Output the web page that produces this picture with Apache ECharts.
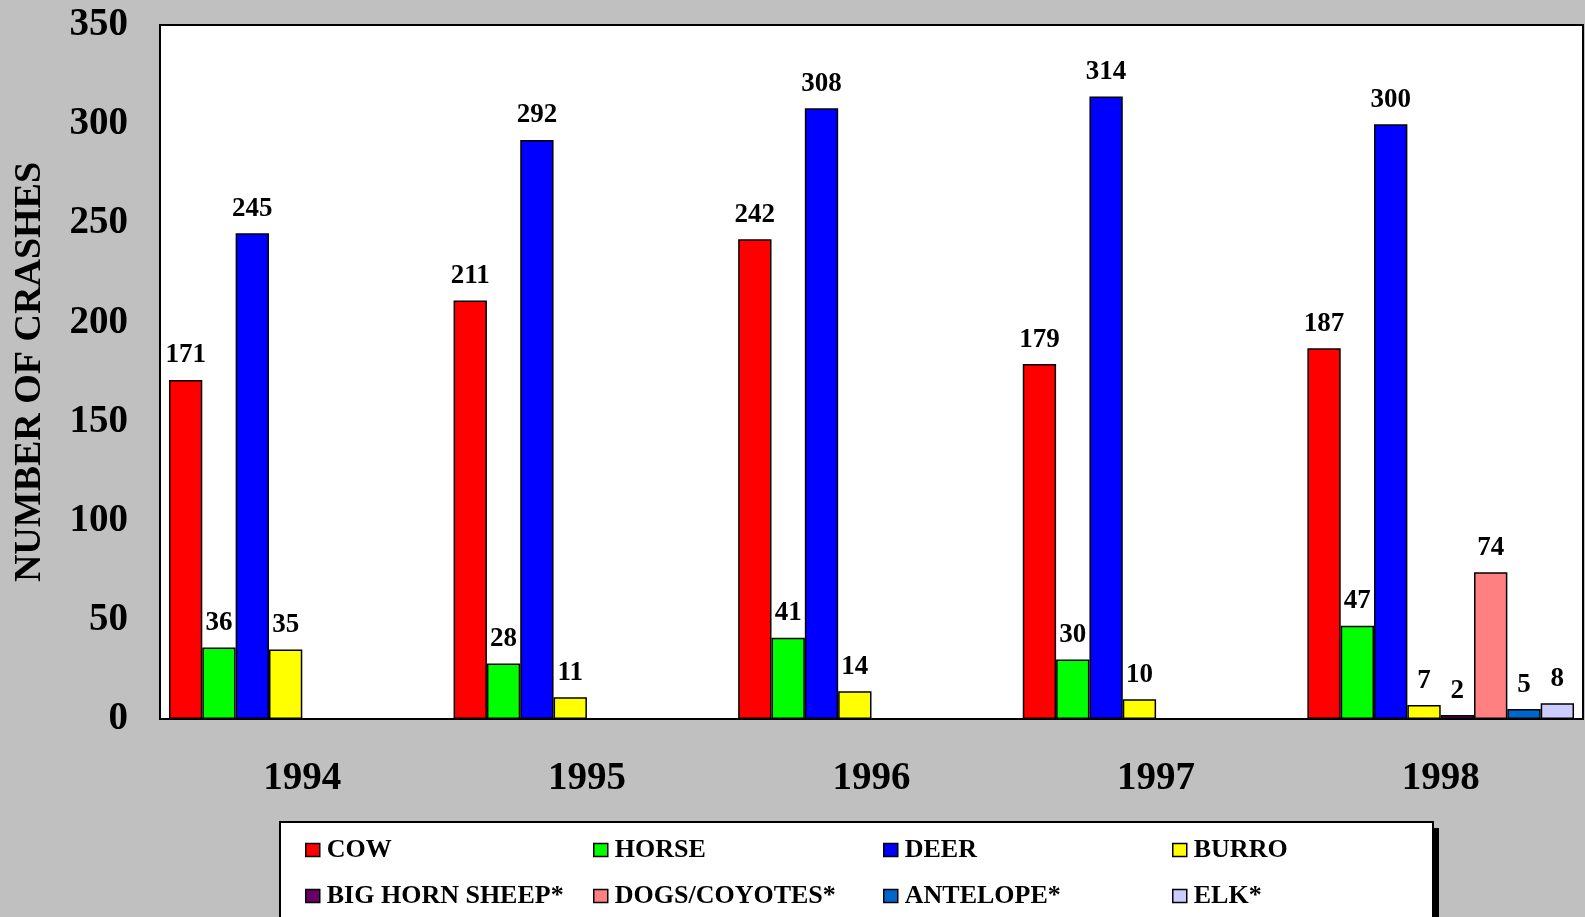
<!DOCTYPE html>
<html><head><meta charset="utf-8">
<script src="https://cdn.jsdelivr.net/npm/echarts@6/dist/echarts.min.js"></script>
<style>html,body{margin:0;padding:0;background:#C0C0C0;}#c{width:1585px;height:917px;}</style>
</head><body><div id="c"></div>
<script>
const years = ['1994','1995','1996','1997','1998'];
const seriesNames = ['COW','HORSE','DEER','BURRO','BIG HORN SHEEP*','DOGS/COYOTES*','ANTELOPE*','ELK*'];
const seriesColors = ['#FF0000','#00FF00','#0000FF','#FFFF00','#660066','#FF8080','#0066CC','#CCCCFF'];
const cow = [171, 211, 242, 179, 187];
const horse = [36, 28, 41, 30, 47];
const deer = [245, 292, 308, 314, 300];
const burro = [35, 11, 14, 10, 7];
const bigHornSheep = ['-', '-', '-', '-', 2];
const dogsCoyotes = ['-', '-', '-', '-', 74];
const antelope = ['-', '-', '-', '-', 5];
const elk = ['-', '-', '-', '-', 8];
const allData = [cow, horse, deer, burro, bigHornSheep, dogsCoyotes, antelope, elk];

const FONT = '"Liberation Serif","Times New Roman",serif';
const chart = echarts.init(document.getElementById('c'));
const legendLefts = [300, 588, 878, 1167];
const legends = legendLefts.map((l, c) => ({
  orient: 'vertical',
  left: l, top: 832,
  itemWidth: 14, itemHeight: 13, itemGap: 20,
  icon: 'rect',
  itemStyle: {borderColor: '#000', borderWidth: 1.5},
  textStyle: {fontFamily: FONT, fontWeight: 'bold', fontSize: 26, color: '#000', padding: [0,0,0,2]},
  data: [seriesNames[c], seriesNames[c + 4]]
}));
chart.setOption({
  backgroundColor: '#C0C0C0',
  animation: false,
  graphic: [
    {type: 'rect', z: 0, shape: {x: 286, y: 828, width: 1153, height: 120}, style: {fill: '#000'}},
    {type: 'rect', z: 1, shape: {x: 280, y: 822, width: 1153, height: 120}, style: {fill: '#fff', stroke: '#000', lineWidth: 2}}
  ],
  legend: legends,
  grid: {left: 160, top: 25, width: 1423, height: 694, show: true, backgroundColor: '#fff', borderColor: '#000', borderWidth: 2},
  xAxis: {
    type: 'category', data: years,
    axisLine: {show: true, lineStyle: {color: '#000', width: 2}},
    axisTick: {show: false},
    axisLabel: {fontFamily: FONT, fontWeight: 'bold', fontSize: 39, color: '#000', margin: 40}
  },
  yAxis: {
    type: 'value', min: 0, max: 350, interval: 50,
    name: 'NUMBER OF CRASHES', nameLocation: 'middle', nameRotate: 90, nameGap: 111,
    nameTextStyle: {fontFamily: FONT, fontWeight: 'bold', fontSize: 38, color: '#000'},
    axisLine: {show: true, lineStyle: {color: '#000', width: 2}},
    axisTick: {show: false},
    splitLine: {show: false},
    axisLabel: {fontFamily: FONT, fontWeight: 'bold', fontSize: 39, color: '#000', margin: 32, padding: [6, 0, 0, 0]}
  },
  series: seriesNames.map((n, i) => ({
    name: n, type: 'bar', data: allData[i],
    barGap: '0%', barCategoryGap: '6.3%',
    itemStyle: {color: seriesColors[i], borderColor: '#000', borderWidth: 1.5},
    label: {show: true, position: 'top', distance: 11, fontFamily: FONT, fontWeight: 'bold', fontSize: 27, color: '#000'}
  }))
});
</script></body></html>
